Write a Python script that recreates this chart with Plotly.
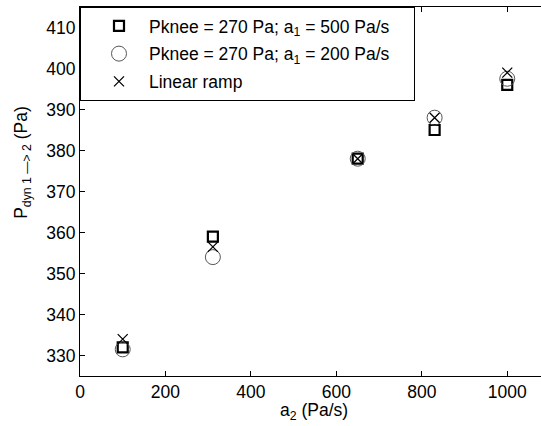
import plotly.graph_objects as go

a2_values = [100, 311, 650, 830, 1000]
p_a1_500 = [332, 359, 378, 385, 396]
p_a1_200 = [331.5, 354, 378, 388, 397.5]
p_linear = [334, 356.5, 378, 388, 399]

PAD = "\u00a0" * 4
series_names = [
    "Pknee = 270 Pa; a<sub>1</sub> = 500 Pa/s",
    "Pknee = 270 Pa; a<sub>1</sub> = 200 Pa/s",
    "Linear ramp",
]
x_ticks = [0, 200, 400, 600, 800, 1000]
y_ticks = [330, 340, 350, 360, 370, 380, 390, 400, 410]

FONT = "Liberation Sans, Arial, sans-serif"
FS = 17.5

fig = go.Figure()
fig.add_trace(go.Scatter(
    x=a2_values, y=p_a1_500, mode="markers", name=series_names[0] + PAD, legendgroup="g1",
    marker=dict(symbol="square-open", size=10, color="black", line=dict(width=2.2, color="black")),
))
fig.add_trace(go.Scatter(
    x=a2_values, y=p_a1_200, mode="markers", name=series_names[1] + PAD, legendgroup="g2",
    marker=dict(symbol="circle-open", size=15, color="#555555", line=dict(width=1, color="#555555")),
))
fig.add_trace(go.Scatter(
    x=a2_values, y=p_linear, mode="markers", name=series_names[2], legendgroup="g3",
    marker=dict(symbol="x-thin-open", size=10, color="black", line=dict(width=1.3, color="black")),
))

fig.update_layout(
    width=541, height=426,
    margin=dict(l=80, r=0, t=7, b=50),
    paper_bgcolor="white", plot_bgcolor="white",
    font=dict(family=FONT, size=FS, color="black"),
    showlegend=True,
    legend=dict(
        x=0, y=1, xanchor="left", yanchor="top",
        bgcolor="white", bordercolor="black", borderwidth=1,
        font=dict(family=FONT, size=FS, color="black"),
        indentation=8, itemwidth=50, tracegroupgap=2,
    ),
)
fig.update_xaxes(
    range=[0, 1079], tickvals=x_ticks, ticktext=[str(v) for v in x_ticks],
    showgrid=False, zeroline=False, showline=True, linecolor="black", linewidth=1,
    mirror="ticks", ticks="inside", ticklen=5, tickcolor="black", tickwidth=1,
    tickfont=dict(family=FONT, size=FS, color="black"),
)
fig.update_yaxes(
    range=[325, 415], tickvals=y_ticks, ticktext=[str(v) for v in y_ticks],
    showgrid=False, zeroline=False, showline=True, linecolor="black", linewidth=1,
    mirror=False, ticks="inside", ticklen=5, tickcolor="black", tickwidth=1,
    tickfont=dict(family=FONT, size=FS, color="black"),
)
fig.add_annotation(
    text="a<sub>2</sub> (Pa/s)", xref="paper", yref="paper",
    x=(314 - 80) / 461, y=-0.097, xanchor="center", yanchor="middle",
    showarrow=False, font=dict(family=FONT, size=FS, color="black"),
)
fig.add_annotation(
    text="P<sub>dyn 1 —> 2</sub> (Pa)", xref="paper", yref="paper",
    x=-0.124, y=0.58, xanchor="center", yanchor="middle", textangle=-90,
    showarrow=False, font=dict(family=FONT, size=FS, color="black"),
)

fig.write_html(
    "out.html",
    config={"displayModeBar": False},
    post_script="document.body.style.margin='0';document.body.style.padding='0';",
)
